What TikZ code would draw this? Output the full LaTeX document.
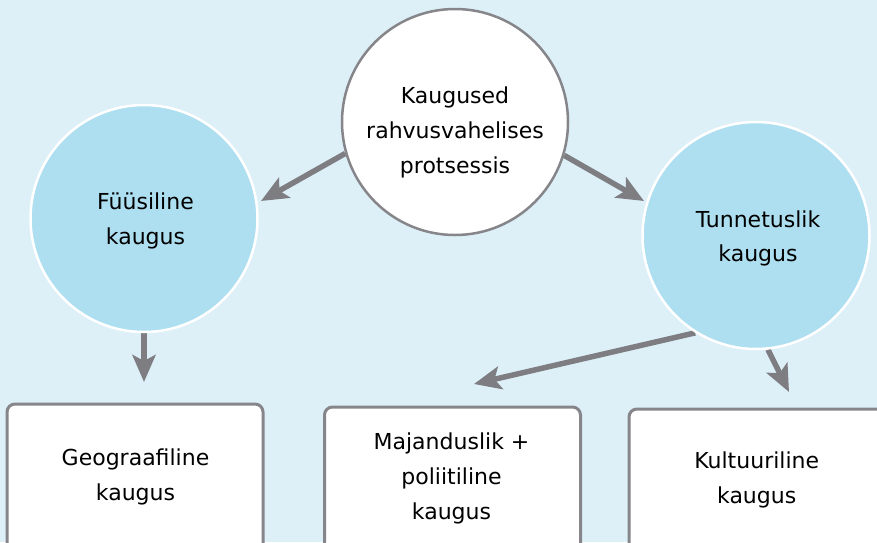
\documentclass[tikz,border=0pt]{standalone}
\usepackage{fontspec}
\setmainfont{DejaVu Sans}
\usetikzlibrary{arrows.meta}
\definecolor{bgblue}{HTML}{DDF0F8}
\definecolor{circblue}{HTML}{ADDFF0}
\definecolor{arrgray}{HTML}{7E7E82}
\definecolor{boxgray}{HTML}{86868A}
\pgfdeclarelayer{bg}
\pgfsetlayers{bg,main}
\begin{document}
\begin{tikzpicture}[x=1pt,y=-1pt,
  txt/.style={font=\fontsize{22}{35}\selectfont, align=center, text=black, inner sep=0pt},
  maincirc/.style={circle, draw=boxgray, line width=2.5pt, fill=white, minimum size=226pt, inner sep=0pt},
  bluecirc/.style={circle, draw=white, line width=2.5pt, fill=circblue, minimum size=227pt, inner sep=0pt},
  boxnode/.style={rectangle, rounded corners=8pt, draw=boxgray, line width=3pt, fill=white, minimum width=256pt, minimum height=156pt, inner sep=0pt},
  arr/.style={draw=arrgray, line width=5.5pt, -{Stealth[length=27pt,width=23pt,inset=6pt]}}
]
\useasboundingbox (0,0) rectangle (877,542);
\clip (0,0) rectangle (877,542);
\begin{pgfonlayer}{bg}
  \fill[bgblue] (0,0) rectangle (877,542);
\end{pgfonlayer}

% circles
\node[maincirc] (C) at (455,122) {};
\node[bluecirc] (L) at (144,218.5) {};
\node[bluecirc] (R) at (756,235.5) {};

% boxes
\node[boxnode] (B1) at (135,482) {};
\node[boxnode] (B2) at (452.5,485) {};
\node[boxnode] (B3) at (757,487) {};

% texts
\node[txt] (tC) at (455,132) {Kaugused\\rahvusvahelises\\protsessis};
\node[txt] (tL) at (145.5,220.5) {Füüsiline\\kaugus};
\node[txt, font=\fontsize{22}{34}\selectfont] (tR) at (758,238) {Tunnetuslik\\kaugus};
\node[txt] (t1) at (135.5,476.7) {Geograafiline\\kaugus};
\node[txt] (t2) at (451.5,478.8) {Majanduslik +\\poliitiline\\kaugus};
\node[txt] (t3) at (756.7,480) {Kultuuriline\\kaugus};

% arrow ends
\coordinate (e1) at (261,201);
\coordinate (e2) at (644,201);
\coordinate (e3) at (144,382);
\coordinate (e4) at (474,384);
\coordinate (e5) at (789,392);

\begin{pgfonlayer}{bg}
  \draw[arr] (C.196) -- (e1);
  \draw[arr] (C.-17) -- (e2);
  \draw[arr] (L.south) -- (e3);
  \draw[arr] (R.238.7) -- (e4);
  \draw[arr] (R.276) -- (e5);
\end{pgfonlayer}
\end{tikzpicture}
\end{document}
